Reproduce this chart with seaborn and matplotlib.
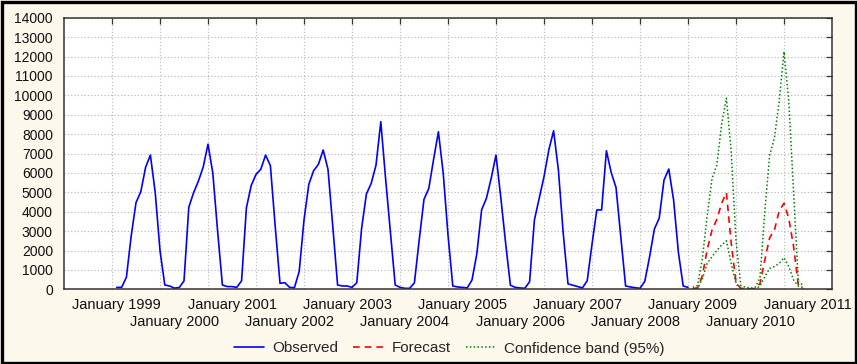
import numpy as np
import pandas as pd
import matplotlib
matplotlib.use("Agg")
import matplotlib.pyplot as plt
import seaborn as sns
from matplotlib.patches import Rectangle
from matplotlib.lines import Line2D

# Monthly observed values, January..December
obs_1999 = [100, 100, 620, 2750, 4470, 5030, 6290, 6920, 5000, 2000, 220, 170]
obs_2000 = [60, 90, 430, 4230, 4980, 5580, 6300, 7480, 6000, 3000, 220, 140]
obs_2001 = [140, 100, 440, 4200, 5350, 5920, 6190, 6920, 6370, 3250, 310, 340]
obs_2002 = [100, 80, 920, 3570, 5410, 6110, 6440, 7180, 6180, 3230, 220, 170]
obs_2003 = [170, 100, 340, 3140, 4910, 5460, 6400, 8640, 5700, 2950, 220, 100]
obs_2004 = [50, 50, 330, 2540, 4640, 5200, 6700, 8120, 6000, 2800, 170, 120]
obs_2005 = [100, 70, 480, 1820, 4090, 4690, 5720, 6920, 4730, 2390, 210, 100]
obs_2006 = [70, 50, 390, 3570, 4690, 5800, 7180, 8170, 6150, 2900, 280, 210]
obs_2007 = [140, 70, 440, 2320, 4090, 4090, 7140, 6020, 5250, 2710, 170, 120]
obs_2008 = [80, 50, 410, 1680, 3110, 3660, 5630, 6200, 4600, 1900, 170, 100]

# Forecast for 2009-2010 with 95% confidence limits
forecast = [30, 80, 700, 2050, 3050, 3600, 4430, 4980, 2400, 350, 50, 30,
            20, 40, 300, 1500, 2650, 3050, 4050, 4430, 3650, 2200, 200, 30]
upper = [100, 200, 1600, 3800, 5700, 6400, 8500, 9850, 7100, 2500, 200, 100,
         60, 100, 600, 4000, 6900, 7800, 9700, 12250, 9700, 5000, 300, 250]
lower = [0, 30, 550, 1340, 1680, 2000, 2280, 2500, 1340, 300, 30, 10,
         0, 10, 170, 650, 1080, 1170, 1340, 1630, 1170, 480, 150, 100]

tick_years = list(range(1999, 2012))
tick_labels = [f"January {y}" for y in tick_years]

# Case numbering of the time axis: January 1999 is case 11
first_case = 11
observed = (obs_1999 + obs_2000 + obs_2001 + obs_2002 + obs_2003 +
            obs_2004 + obs_2005 + obs_2006 + obs_2007 + obs_2008)
obs_case = first_case + np.arange(len(observed))
fc_case = obs_case[-1] + 1 + np.arange(len(forecast))

df_obs = pd.DataFrame({"case": obs_case, "value": observed})
df_fc = pd.DataFrame({"case": fc_case, "forecast": forecast,
                      "upper": upper, "lower": lower})

sns.set_theme(style="white")
plt.rcParams["font.family"] = ["Liberation Sans", "DejaVu Sans"]

bg = "#fdf8ec"
W, H = 857, 364
fig = plt.figure(figsize=(W / 100, H / 100), dpi=100, facecolor=bg)
ax = fig.add_axes([64 / W, 1 - 289.3 / H, 768 / W, (289.3 - 17.7) / H])
ax.set_facecolor("white")

blue, red, green = "#0000ff", "#ff0000", "#008000"
sns.lineplot(data=df_obs, x="case", y="value", ax=ax, color=blue, lw=1.2)
sns.lineplot(data=df_fc, x="case", y="forecast", ax=ax, color=red, lw=1.2,
             linestyle=(0, (4, 3)))
sns.lineplot(data=df_fc, x="case", y="upper", ax=ax, color=green, lw=1.1,
             linestyle=(0, (1, 1.5)))
sns.lineplot(data=df_fc, x="case", y="lower", ax=ax, color=green, lw=1.1,
             linestyle=(0, (1, 1.5)))

ax.set_xlim(0, 160)
ax.set_ylim(0, 14000)
ax.set_xlabel("")
ax.set_ylabel("")

# Grid every 10 cases; year labels on January of each year, two staggered rows
ax.set_xticks(np.arange(10, 160, 10))
ax.set_xticklabels([])
ax.set_xticks(first_case + 12 * np.arange(len(tick_years)), minor=True)
ax.set_xticklabels(tick_labels, minor=True)
ax.set_yticks(np.arange(0, 14001, 1000))

ax.grid(True, which="major", color="#b4b4b4", linestyle=(0, (1, 2)), lw=0.8)
ax.tick_params(which="major", direction="in", length=4, width=0.9,
               top=True, right=True, color="#333333", labelsize=10,
               labelcolor="#111111")
ax.tick_params(axis="y", which="major", pad=8)
ax.tick_params(axis="x", which="minor", length=0, labelsize=10.5,
               labelcolor="#111111", pad=6.5)
for i, tick in enumerate(ax.xaxis.get_minor_ticks()):
    if i % 2 == 1:
        tick.set_pad(18.5)

for s in ax.spines.values():
    s.set_color("#333333")
    s.set_linewidth(1.1)

handles = [Line2D([], [], color=blue, lw=1.2),
           Line2D([], [], color=red, lw=1.2, linestyle=(0, (4, 3))),
           Line2D([], [], color=green, lw=1.1, linestyle=(0, (1, 1.5)))]
fig.legend(handles, ["Observed", "Forecast", "Confidence band (95%)"],
           loc="center", bbox_to_anchor=(449 / W, 1 - 348.5 / H), ncol=3,
           frameon=False, fontsize=11, handlelength=2.0, handletextpad=0.5,
           columnspacing=1.0)

fig.add_artist(Rectangle((1.5 / W, 1.5 / H), 1 - 3 / W, 1 - 3 / H,
                         transform=fig.transFigure, fill=False,
                         ec="black", lw=2.4))

fig.savefig("out.png", dpi=100, facecolor=bg)
